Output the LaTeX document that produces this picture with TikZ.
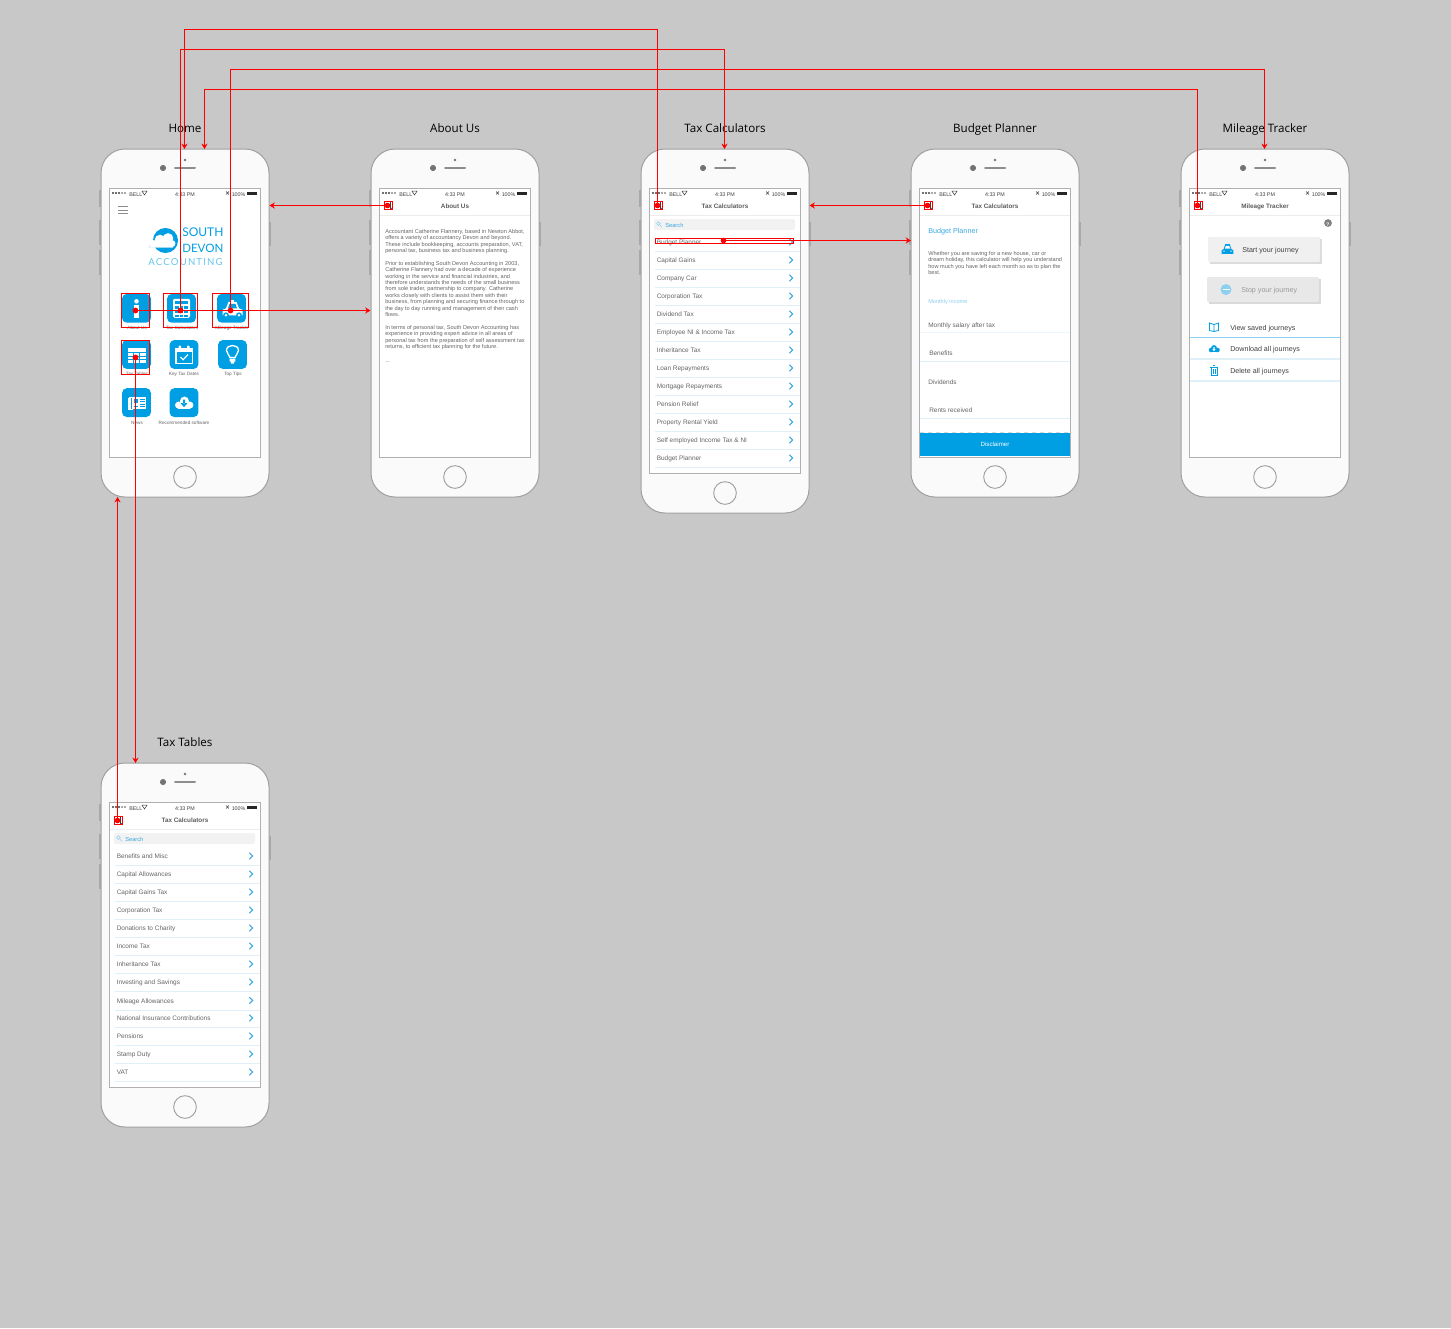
\documentclass[tikz,border=0pt]{standalone}
\usepackage{fontspec}
\setmainfont{Liberation Sans}
\newfontfamily\titlefont{Open Sans}
\newfontfamily\logofont{Lato}
\usetikzlibrary{arrows.meta}
\definecolor{bgc}{HTML}{C8C8C8}
\definecolor{brand}{HTML}{009FE3}
\definecolor{body}{HTML}{FAFAFA}
\definecolor{edge}{HTML}{A0A0A0}
\definecolor{scr}{HTML}{B0B0B0}
\definecolor{ink}{HTML}{666666}
\definecolor{dark}{HTML}{404040}
\definecolor{sep}{HTML}{DFF0F8}
\definecolor{hair}{HTML}{EDEDED}
\definecolor{softblue}{HTML}{8CCFEF}
\definecolor{chev}{HTML}{3AA8E0}
\tikzset{
  phone/.style={draw=edge,fill=body,line width=0.75pt,rounded corners=18pt,minimum width=126pt,inner sep=0pt,outer sep=0pt,anchor=north west},
  screen/.style={draw=scr,fill=white,line width=0.75pt},
  homebtn/.style={circle,draw=edge,fill=body,line width=0.7pt,minimum size=17pt,inner sep=0pt},
  sidekey/.style={fill=edge!80!bgc},
  link/.style={red,line width=0.8pt,-{Stealth[length=4pt,width=4.6pt,inset=1.3pt]}},
  hot/.style={draw=red,line width=1.05pt,inner sep=0pt,outer sep=0pt},
  dotmark/.style={fill=red},
  tl/.style={anchor=mid west,inner sep=0pt,yshift=0.75pt,text=ink,font=\fontsize{4.2}{5}\selectfont},
  tc/.style={anchor=mid,inner sep=0pt,yshift=0.75pt,text=ink,font=\fontsize{3.5}{4}\selectfont},
  rowt/.style={tl,font=\fontsize{4.85}{6}\selectfont},
  milet/.style={tl,text=dark,font=\fontsize{5.35}{6}\selectfont},
  statust/.style={inner sep=0pt,text=dark,font=\fontsize{4}{5}\selectfont},
  headt/.style={anchor=mid,inner sep=0pt,yshift=0.75pt,text=dark!85,font=\bfseries\fontsize{4.75}{6}\selectfont},
  titlet/.style={anchor=mid,inner sep=0pt,yshift=-0.6pt,text=black,font=\titlefont\fontsize{8.7}{10}\selectfont},
  iconbox/.style={fill=brand,rounded corners=3.5pt,minimum size=21.6pt,inner sep=0pt,outer sep=0pt},
  sepl/.style={draw=sep,line width=0.75pt},
  chevl/.style={draw=chev,line width=0.75pt},
}
\newcounter{tn}
\newcommand\T[4]{\stepcounter{tn}\node[#1] (txt\arabic{tn}) at (#2,#3) {#4};}
\newcommand\statusbar[2]{%
  \foreach \k/\c in {0/dark,3/dark,6/dark,9/dark!60,12/dark!60}{\fill[\c] ({#1+3+\k},#2) circle (0.85pt);}
  \T{statust,anchor=mid west}{#1+19}{#2}{BELL}
  \draw[dark,line width=0.4pt] ({#1+32},{#2-1.8}) -- ({#1+37},{#2-1.8}) -- ({#1+34.5},{#2+2}) -- cycle;
  \T{statust,anchor=mid}{#1+75}{#2}{4:33 PM}
  \draw[dark,line width=0.35pt] ({#1+116},{#2-1.6}) -- ({#1+119},{#2+1.6}) ({#1+119},{#2-1.6}) -- ({#1+116},{#2+1.6});
  \T{statust,anchor=mid west}{#1+121.5}{#2}{100\%}
  \fill[black!85] ({#1+137},{#2-1.3}) rectangle ({#1+147},{#2+1.7});
}
% id x y h
\newcommand\phone[4]{%
  \fill[sidekey] ({#2-1.8},{#3+41}) rectangle ({#2+1},{#3+58});
  \fill[sidekey] ({#2-1.8},{#3+71}) rectangle ({#2+1},{#3+96});
  \fill[sidekey] ({#2-1.8},{#3+101}) rectangle ({#2+1},{#3+126});
  \fill[sidekey] ({#2+167},{#3+73}) rectangle ({#2+169.8},{#3+97});
  \node[phone,minimum height={#4*0.75pt}] (#1) at (#2,#3) {};
  \fill[black!55] ({#2+62},{#3+19}) circle (2.3pt);
  \fill[black!55] ({#2+84},{#3+11}) circle (1pt);
  \draw[black!45,line width=1.5pt,line cap=round] ({#2+74},{#3+19}) -- ({#2+94},{#3+19});
  \node[homebtn] (#1btn) at ({#2+84},{#3+#4-20}) {};
  \draw[screen] ({#2+8.5},{#3+39.5}) rectangle ({#2+159.5},{#3+#4-40});
  \statusbar{#2+9}{#3+44}
}
% header: x y(phone) title
\newcommand\header[3]{%
  \T{headt}{#1+84}{#2+57}{#3}
  \draw[hair,line width=0.75pt] ({#1+9},{#2+66}) -- ({#1+159},{#2+66});
}
% back hotspot: id x y
\newcommand\backhot[3]{%
  \draw[dark,line width=0.5pt] ({#2-2.5},{#3-2.5}) -- ({#2+4},{#3+4}) ({#2+2},{#3-3.5}) -- ({#2+2},{#3+3.5});
  \node[hot,minimum width=6pt,minimum height=6pt] (#1) at (#2,#3) {};
  \coordinate (#1dot) at ({#2-1},#3);
  \fill[dotmark] (#1dot) circle (2.1pt);
}
\newcommand\chevron[2]{\draw[chevl] ({#1-1.6},{#2-3.2}) -- ({#1+1.6},{#2}) -- ({#1-1.6},{#2+3.2});}
\newcommand\searchbox[2]{%
  \fill[black!5,rounded corners=1.5pt] ({#1+13},{#2}) rectangle ({#1+154},{#2+11});
  \draw[softblue,line width=0.4pt] ({#1+17.5},{#2+4.6}) circle (1.4pt) ({#1+19.3},{#2+6.4}) -- ({#1+21},{#2+8.2});
  \T{tl,text=chev,font=\fontsize{4.3}{5}\selectfont}{#1+24}{#2+5.6}{Search}
}
\begin{document}
\begin{tikzpicture}[x=0.75pt,y=-0.75pt]
\useasboundingbox (0,0) rectangle (1451,1328);
\fill[bgc] (0,0) rectangle (1451,1328);

% titles
\T{titlet}{185}{128}{Home}
\T{titlet}{455}{128}{About Us}
\T{titlet}{725}{128}{Tax Calculators}
\T{titlet}{995}{128}{Budget Planner}
\T{titlet}{1265}{128}{Mileage Tracker}
\T{titlet}{185}{742}{Tax Tables}

% phones
\phone{home}{101}{149}{348}
\phone{about}{371}{149}{348}
\phone{calc}{641}{149}{364}
\phone{budget}{911}{149}{348}
\phone{mileage}{1181}{149}{348}
\phone{tables}{101}{763}{364}

% ---------- HOME ----------
\foreach \yy in {206.5,210,213.5}{\draw[black!45,line width=0.6pt] (118,\yy) -- (128,\yy);}
% logo
\fill[brand] (165.5,240.5) circle (9.4pt);
\fill[sep] (148,247.5) -- (173,247.5) -- (173,243) -- (152,241) -- cycle;
\fill[white] (153,243.5) circle (2.6pt) (160,240) circle (4pt) (168,238.5) circle (4pt) (172,243.5) circle (2.6pt);
\fill[white,rounded corners=1pt] (150,242.5) rectangle (174,247);
\T{tl,text=brand,font=\logofont\fontsize{9}{11}\selectfont}{182}{234}{SOUTH}
\T{tl,text=brand,font=\logofont\fontsize{8.65}{11}\selectfont}{182}{249.5}{DEVON}
\T{tl,text=brand!60,font=\logofont\fontsize{7.2}{9}\selectfont}{148}{263}{A\kern0.85pt C\kern0.85pt C\kern0.85pt O\kern0.85pt U\kern0.85pt N\kern0.85pt T\kern0.85pt I\kern0.85pt N\kern0.85pt G}
% icon tiles
\node[iconbox] (icAbout) at (136.5,308.3) {};
\node[iconbox] (icCalc) at (181.5,308.3) {};
\node[iconbox] (icMile) at (231.5,308.3) {};
\node[iconbox] (icTable) at (136.5,354.5) {};
\node[iconbox] (icKey) at (184,354.5) {};
\node[iconbox] (icTips) at (232.5,354.5) {};
\node[iconbox] (icNews) at (136.5,402.6) {};
\node[iconbox] (icCloud) at (184,402.6) {};
\T{tc}{137}{326.5}{About Us}
\T{tc}{182}{326.5}{Tax Calculators}
\T{tc}{232}{326.5}{Mileage Tracker}
\T{tc}{137}{373}{Tax Tables}
\T{tc}{184}{373}{Key Tax Dates}
\T{tc}{233}{373}{Top Tips}
\T{tc}{137}{421.5}{News}
\T{tc}{184}{421.5}{Recommended software}
% i
\begin{scope}[shift={(icAbout.center)}]
  \fill[white] (0,-7) circle (1.7pt);
  \fill[white] (-2.2,-3) rectangle (2.2,9.5);
\end{scope}
% calculator
\begin{scope}[shift={(icCalc.center)}]
  \fill[white,rounded corners=1pt] (-8.5,-9.5) rectangle (8.5,9.5);
  \fill[brand] (-6.5,-7.5) rectangle (6.5,-4);
  \foreach \a in {-6.5,-2,2.5}{\foreach \b in {-2,2.5,6.5}{\fill[brand] (\a,\b) rectangle ({\a+3.6},{\b+2.6});}}
\end{scope}
% car
\begin{scope}[shift={(icMile.center)},xshift=0.75pt]
  \fill[white] (-10,7) -- (-10,1.5) -- (-6.5,0) -- (-4,-6.5) -- (4,-6.5) -- (6.5,0) -- (10,1.5) -- (10,7) -- cycle;
  \fill[brand] (-3,-4.5) -- (3,-4.5) -- (4.5,0) -- (-4.5,0) -- cycle;
  \fill[brand] (-6.5,7) circle (2.2pt) (6.5,7) circle (2.2pt);
  \fill[white] (-6.5,7) circle (1pt) (6.5,7) circle (1pt);
  \fill[white] (-1.5,-8.5) rectangle (1.5,-6.5);
\end{scope}
% table
\begin{scope}[shift={(icTable.center)}]
  \fill[white] (-9,-7) rectangle (9,8.5);
  \foreach \a in {-3,3}{\draw[brand,line width=0.7pt] (\a,-2.5) -- (\a,8.5);}
  \foreach \b in {-2.5,1.5,5}{\draw[brand,line width=0.7pt] (-9,\b) -- (9,\b);}
\end{scope}
% calendar
\begin{scope}[shift={(icKey.center)}]
  \draw[white,line width=0.9pt] (-8,-6) rectangle (8.5,9);
  \fill[white] (-8,-6) rectangle (8.5,-3);
  \fill[white,rounded corners=0.6pt] (-5.5,-9) rectangle (-3,-4) (3,-9) rectangle (5.5,-4);
  \draw[white,line width=0.9pt] (-3.5,2.5) -- (-0.8,5.2) -- (4,0);
\end{scope}
% bulb
\begin{scope}[shift={(icTips.center)}]
  \draw[white,line width=1pt] (-2.5,3) .. controls (-3,0) and (-6,-1) .. (-6,-4) .. controls (-6,-7.5) and (-3,-9) .. (0,-9) .. controls (3,-9) and (6,-7.5) .. (6,-4) .. controls (6,-1) and (3,0) .. (2.5,3) -- cycle;
  \fill[white] (-2.8,4) rectangle (2.8,7) (-1.6,7) rectangle (1.6,9);
\end{scope}
% newspaper
\begin{scope}[shift={(icNews.center)}]
  \draw[white,line width=0.6pt] (-8.5,-4) rectangle (-6,6.5) (-7.5,-5) rectangle (-4,6.5);
  \fill[white] (-5,-6) rectangle (9.5,6.5);
  \fill[brand] (-3,-3.8) rectangle (1.5,0.8);
  \foreach \b in {-3.5,-1,1.5,3.8}{\draw[brand,line width=0.55pt] (3,\b) -- (8,\b);}
  \draw[brand,line width=0.55pt] (-3,3.8) -- (1.5,3.8);
\end{scope}
% cloud download
\begin{scope}[shift={(icCloud.center)}]
  \fill[white] (-5.5,2.5) circle (2.6pt) (0.5,-1.5) circle (3.4pt) (6,2.5) circle (2.6pt);
  \fill[white] (-6,2) rectangle (6,6);
  \fill[brand] (-1,-3) rectangle (1,1) (-3.5,0.5) -- (3.5,0.5) -- (0,4.5) -- cycle;
\end{scope}

% ---------- ABOUT ----------
\header{371}{149}{About Us}
\foreach \yy/\tx in {230.7/{Accountant Catherine Flannery, based in Newton Abbot,},
 237/{offers a variety of accountancy Devon and beyond.},
 243.5/{These include bookkeeping, accounts preparation, VAT,},
 250/{personal tax, business tax and business planning.},
 262.7/{Prior to establishing South Devon Accounting in 2003,},
 269/{Catherine Flannery had over a decade of experience},
 275.5/{working in the service and financial industries, and},
 282/{therefore understands the needs of the small business},
 288.3/{from sole trader, partnership to company. Catherine},
 294.7/{works closely with clients to assist them with their},
 301/{business, from planning and securing finance through to},
 307.5/{the day to day running and management of their cash},
 314/{flows.},
 326.7/{In terms of personal tax, South Devon Accounting has},
 333/{experience in providing expert advice in all areas of},
 339.5/{personal tax from the preparation of self assessment tax},
 346/{returns, to efficient tax planning for the future.},
 360/{...}}{\T{tl}{385}{\yy}{\tx}}

% ---------- TAX CALCULATORS ----------
\header{641}{149}{Tax Calculators}
\searchbox{641}{219}
\foreach \yy/\tx in {242/Budget Planner,260/Capital Gains,278/Company Car,296/Corporation Tax,314/Dividend Tax,332/Employee NI \& Income Tax,350/Inheritance Tax,368/Loan Repayments,386/Mortgage Repayments,404/Pension Relief,422/Property Rental Yield,440/Self employed Income Tax \& NI,458/Budget Planner}{
  \T{rowt}{656.5}{\yy}{\tx}
  \chevron{791}{\yy}
  \draw[sepl] (655,{\yy+9.5}) -- (800,{\yy+9.5});
}

% ---------- BUDGET ----------
\header{911}{149}{Tax Calculators}
\T{tl,text=chev,font=\fontsize{5.4}{6}\selectfont}{928}{231.3}{Budget Planner}
\T{tl}{928}{252.5}{Whether you are saving for a new house, car or}
\T{tl}{928}{259}{dream holiday, this calculator will help you understand}
\T{tl}{928}{265.5}{how much you have left each month so as to plan the}
\T{tl}{928}{272}{best.}
\T{tl,text=softblue}{928}{301}{Monthly income}
\T{rowt}{928}{324.5}{Monthly salary after tax}
\draw[sepl,sep!60] (920,332.5) -- (1070,332.5);
\T{rowt}{929}{353}{Benefits}
\draw[sepl] (920,361.5) -- (1070,361.5);
\T{rowt}{928}{381.5}{Dividends}
\T{rowt}{929}{410}{Rents received}
\draw[sepl] (920,418.5) -- (1070,418.5);
\draw[black!15,line width=0.5pt,dashed] (920,432.5) -- (1070,432.5);
\node[fill=brand,minimum width=112.5pt,minimum height=17.2pt,inner sep=0pt,anchor=north west] (disc) at (920,433) {};
\T{headt,text=white,font=\fontsize{4.6}{6}\selectfont}{995}{444.3}{Disclaimer}

% ---------- MILEAGE ----------
\header{1181}{149}{Mileage Tracker}
\fill[black!50] (1328,223) circle (2.9pt);
\T{anchor=mid,inner sep=0pt,text=white,font=\bfseries\fontsize{3.8}{4}\selectfont}{1328}{223}{?}
% start button
\fill[black!14] (1210,239) rectangle (1322,264);
\fill[black!6,rounded corners=0.8pt] (1208,237) rectangle (1320,262);
\begin{scope}[shift={(1227.5,249)},xscale=0.58,yscale=0.7]
  \fill[brand] (-10,7) -- (-10,1.5) -- (-6.5,0) -- (-4,-7) -- (4,-7) -- (6.5,0) -- (10,1.5) -- (10,7) -- cycle;
  \fill[white] (-3,-4.5) -- (3,-4.5) -- (4.5,-0.5) -- (-4.5,-0.5) -- cycle;
  \fill[white] (-6,3) circle (0.9pt) (6,3) circle (0.9pt);
\end{scope}
\T{milet}{1242}{249.5}{Start your journey}
% stop button
\fill[black!15] (1209,279) rectangle (1321,304);
\fill[black!9,rounded corners=0.8pt] (1207,277) rectangle (1319,302);
\fill[softblue] (1226,289.5) circle (4.1pt);
\draw[white,line width=0.7pt] (1222.5,289.5) -- (1229.5,289.5);
\T{milet,text=black!40}{1241}{289.5}{Stop your journey}
% list
\draw[brand,line width=0.6pt] (1209.5,323) -- (1214,324.5) -- (1218.5,323) -- (1218.5,330.5) -- (1214,331.5) -- (1209.5,330.5) -- cycle (1214,324.5) -- (1214,331.5);
\T{milet}{1230}{327.5}{View saved journeys}
\draw[softblue,line width=0.75pt] (1190,337.5) -- (1340,337.5);
\fill[brand] (1211,350) circle (1.7pt) (1214,348) circle (2.2pt) (1217.5,350) circle (1.7pt);
\fill[brand] (1211,349) rectangle (1217.5,352.2);
\fill[white] (1213.3,347) rectangle (1214.7,349.5) (1212.3,349.3) -- (1215.7,349.3) -- (1214,351.2) -- cycle;
\T{milet}{1230}{349}{Download all journeys}
\draw[sep,line width=1.5pt] (1190,359) -- (1340,359);
\draw[brand,line width=0.6pt] (1211,367.5) rectangle (1217,375) (1209.7,367.5) -- (1218.3,367.5) (1213,365.7) -- (1215,365.7) (1213,369) -- (1213,373.5) (1215,369) -- (1215,373.5);
\T{milet}{1230}{371}{Delete all journeys}
\draw[sep,line width=1.5pt] (1190,381) -- (1340,381);

% ---------- TAX TABLES ----------
\header{101}{763}{Tax Calculators}
\searchbox{101}{833}
\foreach \yy/\tx in {856/Benefits and Misc,874/Capital Allowances,892/Capital Gains Tax,910/Corporation Tax,928/Donations to Charity,946/Income Tax,964/Inheritance Tax,982/Investing and Savings,1000.5/Mileage Allowances,1018/National Insurance Contributions,1036/Pensions,1054/Stamp Duty,1072/VAT}{
  \T{rowt}{116.5}{\yy}{\tx}
  \chevron{251}{\yy}
  \draw[sepl] (115,{\yy+9.5}) -- (260,{\yy+9.5});
}

% ---------- HOTSPOTS ----------
\node[hot,minimum width=21pt,minimum height=25.5pt] (hsAbout) at (135.5,310.5) {};
\node[hot,minimum width=25.5pt,minimum height=25.5pt] (hsCalc) at (180.5,310.5) {};
\node[hot,minimum width=27pt,minimum height=25.5pt] (hsMile) at (230.5,310.5) {};
\node[hot,minimum width=21pt,minimum height=25.5pt] (hsTables) at (135.5,357.5) {};
\node[hot,minimum width=103.5pt,minimum height=3.75pt] (hsBudget) at (724.5,241) {};
\foreach \n in {hsAbout,hsCalc,hsMile,hsTables}{\fill[dotmark] (\n.center) circle (2.2pt);}
\coordinate (hsBudgetDot) at (723.5,240.5);
\fill[dotmark] (hsBudgetDot) circle (2.1pt);
\backhot{backAbout}{388.5}{205.5}
\backhot{backCalc}{658.5}{205.5}
\backhot{backBudget}{928.5}{205.5}
\backhot{backMile}{1198.5}{205.5}
\backhot{backTables}{118.5}{820.5}

% ---------- CONNECTORS ----------
\coordinate (busA) at (400,29.5);
\coordinate (busB) at (400,49.5);
\coordinate (busC) at (400,69.5);
\coordinate (busD) at (400,89.5);
\coordinate (inHomeA) at (184.5,149);
\coordinate (inHomeB) at (204.5,149);
\coordinate (inCalc) at (724.5,149);
\coordinate (inMile) at (1264.5,149);
\coordinate (inHomeR) at (269.5,205.5);
\coordinate (inCalcR) at (809.5,205.5);
\coordinate (inAbout) at (370.5,310.5);
\coordinate (inBudget) at (911,240.5);
\coordinate (inTables) at (135.5,763);
\coordinate (inHomeLow) at (117.5,497);
\draw[link] (backCalcdot) |- (busA) -| (inHomeA);
\draw[link] (hsCalc.center) |- (busB) -| (inCalc);
\draw[link] (hsMile.center) |- (busC) -| (inMile);
\draw[link] (backMiledot) |- (busD) -| (inHomeB);
\draw[link] (hsAbout.center) -- (inAbout);
\draw[link] (backAboutdot) -- (inHomeR);
\draw[link] (backBudgetdot) -- (inCalcR);
\draw[link] (hsBudgetDot) -- (inBudget);
\draw[link] (hsTables.center) -- (inTables);
\draw[link] (backTablesdot) -- (inHomeLow);
\end{tikzpicture}
\end{document}
